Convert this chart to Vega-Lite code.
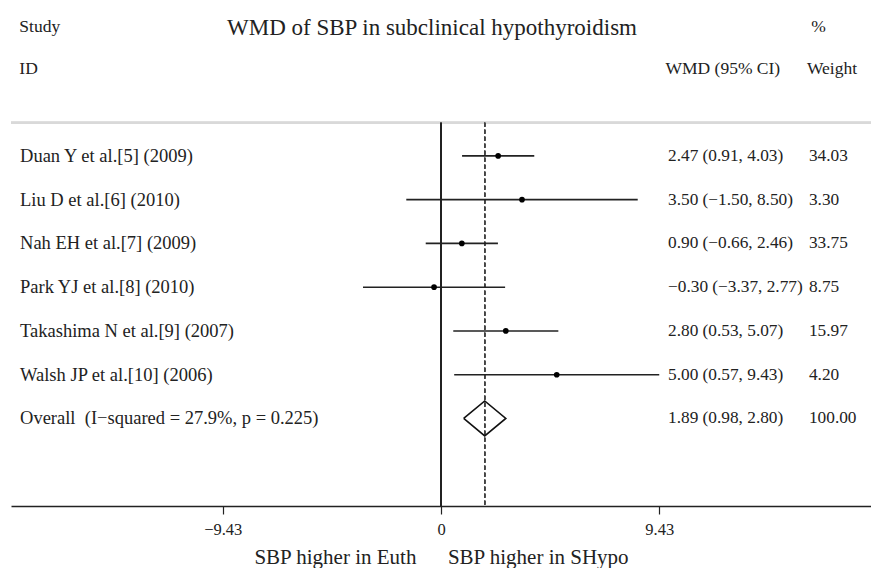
{
  "$schema": "https://vega.github.io/schema/vega-lite/v6.json",
  "autosize": "none",
  "width": 860,
  "height": 506,
  "padding": {"left": 11, "top": 0, "right": 0, "bottom": 62},
  "background": "white",
  "title": {
    "text": "WMD of SBP in subclinical hypothyroidism",
    "font": "Liberation Serif",
    "fontSize": 23,
    "fontWeight": "normal",
    "color": "#222222",
    "anchor": "middle",
    "frame": "group",
    "baseline": "middle",
    "offset": 0,
    "dy": 51,
    "dx": -9
  },
  "datasets": {
    "studies": [
      {"study": "Duan Y et al.[5] (2009)", "est": 2.47, "lo": 0.91, "hi": 4.03, "ci": "2.47 (0.91, 4.03)", "weight": "34.03", "row": 1, "kind": "study"},
      {"study": "Liu D et al.[6] (2010)", "est": 3.50, "lo": -1.50, "hi": 8.50, "ci": "3.50 (\u22121.50, 8.50)", "weight": "3.30", "row": 2, "kind": "study"},
      {"study": "Nah EH et al.[7] (2009)", "est": 0.90, "lo": -0.66, "hi": 2.46, "ci": "0.90 (\u22120.66, 2.46)", "weight": "33.75", "row": 3, "kind": "study"},
      {"study": "Park YJ et al.[8] (2010)", "est": -0.30, "lo": -3.37, "hi": 2.77, "ci": "\u22120.30 (\u22123.37, 2.77)", "weight": "8.75", "row": 4, "kind": "study"},
      {"study": "Takashima N et al.[9] (2007)", "est": 2.80, "lo": 0.53, "hi": 5.07, "ci": "2.80 (0.53, 5.07)", "weight": "15.97", "row": 5, "kind": "study"},
      {"study": "Walsh JP et al.[10] (2006)", "est": 5.00, "lo": 0.57, "hi": 9.43, "ci": "5.00 (0.57, 9.43)", "weight": "4.20", "row": 6, "kind": "study"},
      {"study": "Overall\u00a0\u00a0(I\u2212squared = 27.9%, p = 0.225)", "est": 1.89, "lo": 0.98, "hi": 2.80, "ci": "1.89 (0.98, 2.80)", "weight": "100.00", "row": 7, "kind": "overall"}
    ],
    "diamond": [
      {"order": 1, "x": 0.98, "y": 7},
      {"order": 2, "x": 1.89, "y": 6.6},
      {"order": 3, "x": 2.80, "y": 7},
      {"order": 4, "x": 1.89, "y": 7.4},
      {"order": 5, "x": 0.98, "y": 7}
    ],
    "headers": [
      {"label": "Study", "col": "left", "row": -1.94},
      {"label": "ID", "col": "left", "row": -0.98},
      {"label": "WMD (95% CI)", "col": "ci", "row": -0.98},
      {"label": "%", "col": "pct", "row": -1.94},
      {"label": "Weight", "col": "weight", "row": -0.98}
    ]
  },
  "data": {"name": "studies"},
  "layer": [
    {
      "mark": {"type": "rule", "color": "#d9d9d9", "strokeWidth": 2},
      "encoding": {
        "x": {"datum": -18.58, "type": "quantitative", "scale": {"domain": [-18.58, 18.58], "nice": false, "zero": false},
          "axis": {
            "values": [-9.43, 0, 9.43],
            "labelExpr": "datum.value == 0 ? '0' : format(datum.value, '.2f')",
            "grid": false,
            "domainColor": "#222222",
            "domainWidth": 1.5,
            "tickColor": "#222222",
            "tickWidth": 1.2,
            "tickSize": 8,
            "labelFont": "Liberation Serif",
            "labelFontSize": 16.5,
            "labelColor": "#222222",
            "labelPadding": 7,
            "title": "SBP higher in Euth\u00a0\u00a0\u00a0\u00a0\u00a0\u00a0SBP higher in SHypo",
            "titleFont": "Liberation Serif",
            "titleFontSize": 21,
            "titleFontWeight": "normal",
            "titleColor": "#222222",
            "titlePadding": 9
          }},
        "x2": {"datum": 18.58},
        "y": {"datum": 0.24, "type": "quantitative", "scale": {"domain": [-2.562, 9], "reverse": true, "nice": false, "zero": false}, "axis": null}
      }
    },
    {
      "mark": {"type": "rule", "color": "#222222", "strokeWidth": 1.2},
      "encoding": {
        "x": {"datum": 0, "type": "quantitative"},
        "y": {"datum": 0.24, "type": "quantitative"},
        "y2": {"datum": 9}
      }
    },
    {
      "mark": {"type": "rule", "color": "#444444", "strokeWidth": 1.2, "strokeDash": [4, 3]},
      "encoding": {
        "x": {"datum": 1.89, "type": "quantitative"},
        "y": {"datum": 0.24, "type": "quantitative"},
        "y2": {"datum": 9}
      }
    },
    {
      "transform": [{"filter": "datum.kind == 'study'"}],
      "mark": {"type": "rule", "color": "#222222", "strokeWidth": 1.6},
      "encoding": {
        "x": {"field": "lo", "type": "quantitative"},
        "x2": {"field": "hi"},
        "y": {"field": "row", "type": "quantitative"}
      }
    },
    {
      "transform": [{"filter": "datum.kind == 'study'"}],
      "mark": {"type": "point", "shape": "circle", "filled": true, "color": "#000000", "size": 32, "opacity": 1},
      "encoding": {
        "x": {"field": "est", "type": "quantitative"},
        "y": {"field": "row", "type": "quantitative"}
      }
    },
    {
      "data": {"name": "diamond"},
      "mark": {"type": "line", "color": "#111111", "strokeWidth": 1.6},
      "encoding": {
        "x": {"field": "x", "type": "quantitative"},
        "y": {"field": "y", "type": "quantitative"},
        "order": {"field": "order"}
      }
    },
    {
      "mark": {"type": "text", "align": "left", "baseline": "middle", "font": "Liberation Serif", "fontSize": 18.5, "color": "#222222"},
      "encoding": {
        "x": {"datum": -18.19, "type": "quantitative"},
        "y": {"field": "row", "type": "quantitative"},
        "text": {"field": "study"}
      }
    },
    {
      "mark": {"type": "text", "align": "left", "baseline": "middle", "font": "Liberation Serif", "fontSize": 17.3, "color": "#222222"},
      "encoding": {
        "x": {"datum": 9.81, "type": "quantitative"},
        "y": {"field": "row", "type": "quantitative"},
        "text": {"field": "ci"}
      }
    },
    {
      "mark": {"type": "text", "align": "left", "baseline": "middle", "font": "Liberation Serif", "fontSize": 17.3, "color": "#222222"},
      "encoding": {
        "x": {"datum": 15.9, "type": "quantitative"},
        "y": {"field": "row", "type": "quantitative"},
        "text": {"field": "weight"}
      }
    },
    {
      "data": {"name": "headers"},
      "mark": {"type": "text", "align": "left", "baseline": "middle", "font": "Liberation Serif", "fontSize": 17.5, "color": "#222222"},
      "encoding": {
        "x": {"field": "xpos", "type": "quantitative"},
        "y": {"field": "row", "type": "quantitative"},
        "text": {"field": "label"}
      },
      "transform": [{"lookup": "col", "from": {"data": {"values": [{"col": "left", "xpos": -18.22}, {"col": "ci", "xpos": 9.7}, {"col": "weight", "xpos": 15.81}, {"col": "pct", "xpos": 16.0}]}, "key": "col", "fields": ["xpos"]}}]
    }
  ],
  "config": {"view": {"stroke": null}}
}
